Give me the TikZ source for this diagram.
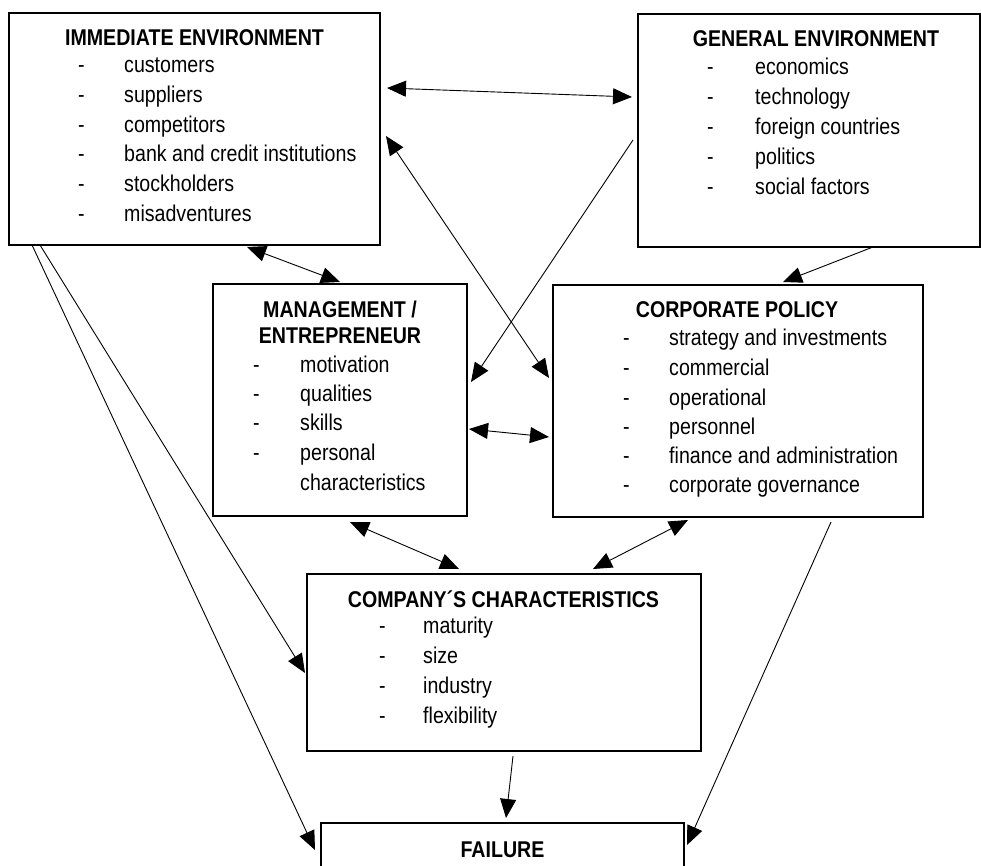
\documentclass[tikz,border=0pt]{standalone}
\usepackage{fontspec}
\setmainfont{Liberation Sans}[FakeStretch=0.86]
\usetikzlibrary{arrows.meta}
\tikzset{
  box/.style={draw, line width=1.1pt, rectangle, inner sep=0pt, outer sep=0pt},
  head/.style={anchor=base, font=\bfseries\fontsize{22.8}{28}\selectfont, inner sep=0pt},
  item/.style={anchor=base west, font=\fontsize{22.8}{28}\selectfont, inner sep=0pt},
  conn/.style={line width=0.9pt, -{Triangle[length=19pt,width=16pt]}},
  conntwo/.style={line width=0.9pt, {Triangle[length=19pt,width=16pt]}-{Triangle[length=19pt,width=16pt]}},
}
\begin{document}
\begin{tikzpicture}[x=1pt,y=-1pt]
\useasboundingbox (0,0) rectangle (981,866);
\clip (0,0) rectangle (981,866);
% boxes
\node[box, minimum width=371pt, minimum height=232pt] (ie) at (194.5,129) {};
\node[box, minimum width=342pt, minimum height=233pt] (ge) at (809,130.5) {};
\node[box, minimum width=254pt, minimum height=232pt] (me) at (340,400) {};
\node[box, minimum width=370pt, minimum height=232pt] (cp) at (738,401) {};
\node[box, minimum width=394pt, minimum height=177pt] (cc) at (504,662.5) {};
\node[box, minimum width=363pt, minimum height=100pt] (fa) at (502.5,873) {};
% headings
\node[head] (ieh) at (194.5,46) {IMMEDIATE ENVIRONMENT};
\node[head] (geh) at (816,47) {GENERAL ENVIRONMENT};
\node[head] (meh1) at (340,317) {MANAGEMENT /};
\node[head] (meh2) at (340,343) {ENTREPRENEUR};
\node[head] (cph) at (737,317) {CORPORATE POLICY};
\node[head] (cch) at (503.5,607) {COMPANY´S CHARACTERISTICS};
\node[head] (fah) at (502.5,857) {FAILURE};
% items
\foreach \t/\y [count=\i] in {customers/73, suppliers/103, competitors/133, bank and credit institutions/162, stockholders/192, misadventures/222}{
  \node[item] (ied\i) at (78,\y) {-};
  \node[item] (iet\i) at (124,\y) {\t};
}
\foreach \t/\y [count=\i] in {economics/75, technology/105, foreign countries/135, politics/165, social factors/195}{
  \node[item] (ged\i) at (707,\y) {-};
  \node[item] (get\i) at (755,\y) {\t};
}
\foreach \t/\y [count=\i] in {motivation/372, qualities/401, skills/430, personal/460}{
  \node[item] (med\i) at (253,\y) {-};
  \node[item] (met\i) at (300,\y) {\t};
}
\node[item] (met5) at (300,490) {characteristics};
\foreach \t/\y [count=\i] in {strategy and investments/345, commercial/375, operational/405, personnel/434, finance and administration/463, corporate governance/492}{
  \node[item] (cpd\i) at (623,\y) {-};
  \node[item] (cpt\i) at (669,\y) {\t};
}
\foreach \t/\y [count=\i] in {maturity/633, size/663, industry/693, flexibility/723}{
  \node[item] (ccd\i) at (379,\y) {-};
  \node[item] (cct\i) at (423,\y) {\t};
}
% connector end points
\coordinate (ieGe) at (387,88);   \coordinate (geIe) at (632,97);
\coordinate (ieCp) at (386,136);  \coordinate (cpIe) at (549,378);
\coordinate (geMe) at (633,140);  \coordinate (meGe) at (471,382);
\coordinate (ieMe) at (247,247);  \coordinate (meIe) at (340,282);
\coordinate (geCp) at (873,247);  \coordinate (cpGe) at (783,282);
\coordinate (meCp) at (469,429);  \coordinate (cpMe) at (549,437);
\coordinate (meCc) at (350,522);  \coordinate (ccMe) at (459,569);
\coordinate (cpCc) at (688,520);  \coordinate (ccCp) at (593,569);
\coordinate (ieCc) at (40,245);   \coordinate (ccIe) at (305,673);
\coordinate (ieFa) at (32,245);   \coordinate (faIe) at (315,850);
\coordinate (ccFa) at (513,756);  \coordinate (faCc) at (506,818);
\coordinate (cpFa) at (831,522);  \coordinate (faCp) at (687,845);
% connectors
\draw[conntwo] (ieGe) -- (geIe);
\draw[conntwo] (ieCp) -- (cpIe);
\draw[conn] (geMe) -- (meGe);
\draw[conntwo] (ieMe) -- (meIe);
\draw[conn] (geCp) -- (cpGe);
\draw[conntwo] (meCp) -- (cpMe);
\draw[conntwo] (meCc) -- (ccMe);
\draw[conntwo] (cpCc) -- (ccCp);
\draw[conn] (ieCc) -- (ccIe);
\draw[conn] (ieFa) -- (faIe);
\draw[conn] (ccFa) -- (faCc);
\draw[conn] (cpFa) -- (faCp);
\end{tikzpicture}
\end{document}
